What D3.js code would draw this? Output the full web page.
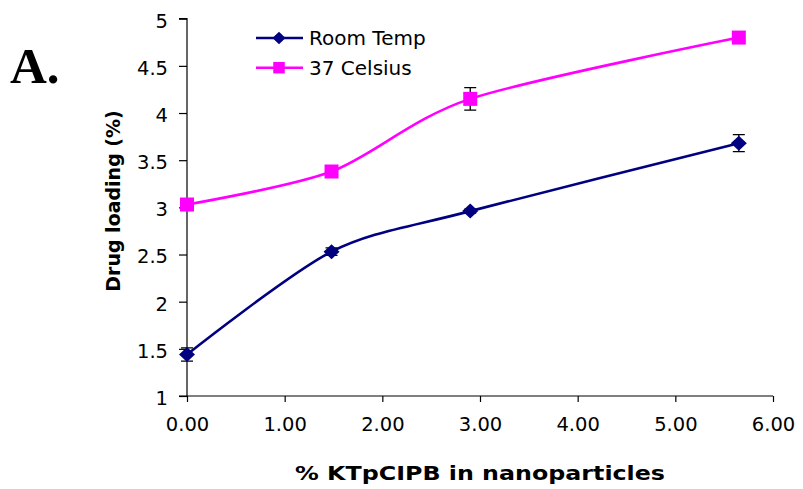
<!DOCTYPE html>
<html><head><meta charset="utf-8">
<script src="https://cdn.jsdelivr.net/npm/d3@7"></script>
<style>body{margin:0;background:#fff}svg{display:block}</style>
</head><body>
<svg id="c" width="803" height="489"></svg>
<script>
const xValues = [0, 1.48, 2.9, 5.65];
const roomTemp = [1.44, 2.53, 2.96, 3.68];
const roomTempErr = [0.07, 0.04, 0.02, 0.09];
const celsius37 = [3.03, 3.38, 4.15, 4.80];
const celsius37Err = [0.02, 0.02, 0.12, 0.02];
const xTicks = [0, 1, 2, 3, 4, 5, 6];
const yTicks = [1, 1.5, 2, 2.5, 3, 3.5, 4, 4.5, 5];
const seriesNames = ["Room Temp", "37 Celsius"];

const svg = d3.select("#c");
const x = d3.scaleLinear().domain([0, 6]).range([187, 773]);
const y = d3.scaleLinear().domain([1, 5]).range([396, 18.7]);
const font = "'DejaVu Sans', sans-serif";

// axes
const ya = svg.append("g").attr("transform", "translate(187,0)")
  .call(d3.axisLeft(y).tickValues(yTicks).tickSize(8).tickPadding(11).tickFormat(d3.format("")));
const xa = svg.append("g").attr("transform", "translate(0,396)")
  .call(d3.axisBottom(x).tickValues(xTicks).tickSize(6).tickPadding(15).tickFormat(d3.format(".2f")));
[ya, xa].forEach(a => {
  a.select(".domain").attr("stroke", "#000").attr("stroke-width", 1.2);
  a.selectAll(".tick line").attr("stroke", "#000").attr("stroke-width", 1.2);
  a.selectAll("text").attr("font-family", font).attr("font-size", 19.5).attr("fill", "#000");
});
ya.selectAll("text").attr("dy", "0.43em");
ya.select(".domain").attr("d", `M-8,${y(5)}H0V${y(1)}H-8`);
xa.select(".domain").attr("d", `M${x(0)},0H${x(6)}`);

const series = [
  {name: seriesNames[0], vals: roomTemp, err: roomTempErr, color: "#000080", shape: "diamond"},
  {name: seriesNames[1], vals: celsius37, err: celsius37Err, color: "#FF00FF", shape: "square"}
];
const line = d3.line().x(d => x(d[0])).y(d => y(d[1])).curve(d3.curveCardinal.tension(0.15));

function marker(g, shape, color, cx, cy, s) {
  if (shape === "diamond") {
    const w = 8 * s, h = 7.5 * s;
    g.append("path").attr("d", `M${cx},${cy-h}L${cx+w},${cy}L${cx},${cy+h}L${cx-w},${cy}Z`).attr("fill", color);
  } else {
    const a = 14 * s;
    g.append("rect").attr("x", cx-a/2).attr("y", cy-a/2).attr("width", a).attr("height", a).attr("fill", color);
  }
}

series.forEach(s => {
  const pts = xValues.map((xv, i) => [xv, s.vals[i]]);
  svg.append("path").attr("d", line(pts)).attr("fill", "none").attr("stroke", s.color).attr("stroke-width", 2.6);
  const g = svg.append("g");
  pts.forEach((p, i) => {
    const cx = x(p[0]);
    const e = s.err[i];
    const t = y(p[1] + e), b = y(p[1] - e);
    g.append("path").attr("d", `M${cx},${t}V${b}M${cx-6},${t}H${cx+6}M${cx-6},${b}H${cx+6}`)
      .attr("stroke", "#000").attr("stroke-width", 1.3).attr("fill", "none");
  });
  pts.forEach(p => marker(g, s.shape, s.color, x(p[0]), y(p[1]), 1));
});

// legend
series.forEach((s, i) => {
  const ly = 38 + i * 29.7;
  svg.append("line").attr("x1", 256).attr("x2", 303).attr("y1", ly).attr("y2", ly).attr("stroke", s.color).attr("stroke-width", 2.6);
  marker(svg, s.shape, s.color, 279, ly, 0.82);
  svg.append("text").attr("x", 309).attr("y", ly).attr("dy", "0.36em").attr("font-family", font)
    .attr("font-size", 20).text(s.name);
});

// titles
svg.append("text").attr("x", 480).attr("y", 480).attr("text-anchor", "middle").attr("font-family", font)
  .attr("font-weight", "bold").attr("font-size", 20)
  .attr("textLength", 370).attr("lengthAdjust", "spacingAndGlyphs").text("% KTpCIPB in nanoparticles");
svg.append("text").attr("transform", "translate(120,201) rotate(-90)").attr("text-anchor", "middle")
  .attr("font-family", font).attr("font-weight", "bold").attr("font-size", 19).text("Drug loading (%)");
svg.append("text").attr("x", 10).attr("y", 83).attr("font-family", "'Liberation Serif', 'Times New Roman', serif")
  .attr("font-weight", "bold").attr("font-size", 51).text("A.");
</script>
</body></html>
